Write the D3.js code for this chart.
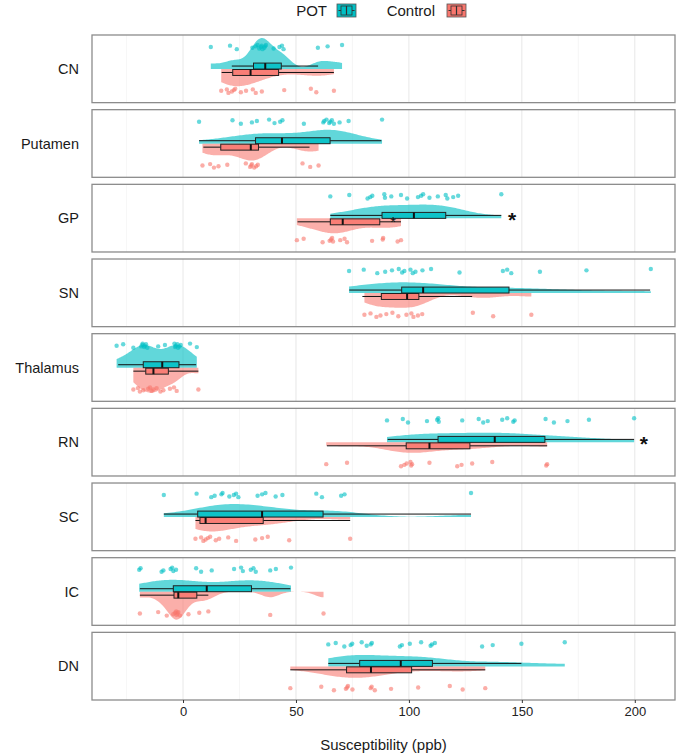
<!DOCTYPE html>
<html>
<head>
<meta charset="utf-8">
<script src="https://cdn.jsdelivr.net/npm/d3@7"></script>
<style>
  body { margin: 0; background: #fff; }
  svg text { font-family: "Liberation Sans", Arial, Helvetica, sans-serif; }
</style>
</head>
<body>
<div id="chart"></div>
<script>
const regions = ["CN", "Putamen", "GP", "SN", "Thalamus", "RN", "SC", "IC", "DN"];
const groups = ["POT", "Control"];
const xTicks = [0, 50, 100, 150, 200];
const xMinor = [-25, 25, 75, 125, 175];

// individual subjects (overlapping dots counted twice)
const potValues = {
  CN: [12.3, 20.8, 23.8, 30.7, 32.2, 33, 33.7, 34.5, 34.8, 35.2, 36, 36.3, 36.7, 40.1, 42.7, 43.8, 44.5, 59.7, 64, 70.4],
  Putamen: [7.1, 21.9, 25.6, 30.5, 32.7, 38.1, 40.5, 43, 44, 53.5, 62.1, 62.5, 63.5, 64.7, 65.2, 65.9, 66.8, 69.3, 73.3, 88.1],
  GP: [65.2, 73.6, 81.7, 82.9, 83.8, 89.1, 89.4, 92.2, 96.5, 99.2, 104, 105.4, 106.3, 109.1, 112.8, 116.3, 117, 119.6, 121.8, 140.9],
  SN: [73.5, 80, 86, 89.5, 92.5, 95.5, 97, 98, 100.7, 101.7, 102.9, 106, 109.8, 122.4, 141.6, 143.5, 145.3, 158, 178.6, 207.1],
  Thalamus: [-29.4, -26.5, -22, -18.5, -18, -17.9, -17.2, -16.9, -16.4, -15.8, -11, -8, -3.8, -3.5, -3.2, -2.5, -2.2, -1.6, -1, 3.1, 6.1],
  RN: [90.3, 97.3, 99.6, 108, 112.5, 113, 113.2, 123.6, 130.9, 132.9, 134.9, 141.3, 143.5, 146.2, 146.8, 160.5, 164.2, 170.2, 179.7, 199.7],
  SC: [-8.5, 6, 12.5, 14, 17, 17.5, 20.5, 22.5, 23.5, 24.5, 33, 35, 36.5, 41, 44, 59, 61.5, 70, 71.5, 127.5],
  IC: [-19.4, -18.8, -9.5, -8.7, -5.5, -4.8, -4.3, -3.1, 5.8, 8, 12.7, 22.6, 25.7, 26.5, 30, 31.2, 32.2, 38.6, 41.1, 47.8],
  DN: [64.3, 67.6, 71.4, 74.2, 74.9, 79.1, 81.3, 83.1, 83.6, 96, 96.9, 100.4, 105.4, 109.6, 110.2, 111.5, 132.4, 137.1, 149.8, 169]
};
const controlValues = {
  CN: [16.9, 19.4, 20.1, 21.6, 22.5, 23.1, 25.6, 27.9, 30.9, 32.2, 34.9, 44.8, 56.6, 59, 66.8],
  Putamen: [8.6, 12, 13.7, 15.7, 19.6, 27.8, 29.7, 30.2, 30.5, 31.5, 32.4, 33.1, 52.9, 56.3, 60],
  GP: [50.4, 53.4, 61.8, 64.9, 65.5, 66, 66.4, 69.6, 71.5, 72.6, 83.7, 88.4, 88.6, 95, 96.5],
  SN: [80.3, 83, 85.6, 87.4, 90, 92.7, 95.3, 98.9, 101.1, 102, 104, 105.9, 128.3, 137.3, 154.2],
  Thalamus: [-22, -20, -19.1, -17.6, -15.4, -14.6, -13.9, -13.1, -11.7, -10, -8.7, -5.8, -4, -2.8, 6.8],
  RN: [63.4, 72.6, 96.5, 98, 99, 100.7, 101, 101.4, 109.1, 121.4, 123.3, 128, 136.9, 160.8, 161.2],
  SC: [5.5, 8, 9, 10, 11, 12, 14.5, 16, 20, 23.5, 32, 35, 37.5, 47, 74],
  IC: [-19.1, -11, -7.2, -4.3, -3.5, -3, -2.8, -2.5, -2.1, -1.3, 2.4, 7.2, 11.2, 38.6, 62.2],
  DN: [47.5, 61.2, 66.8, 72.1, 72.6, 73, 75, 83.1, 83.5, 84.9, 92.1, 104.1, 118.1, 123.8, 133.8]
};

// box stats: lower whisker, q1, median, q3, upper whisker
const potBox = {
  CN: [21.6, 31.2, 36.4, 43.5, 59.8],
  Putamen: [7.1, 32.1, 43.8, 65.1, 87.8],
  GP: [65.2, 88.1, 102.2, 116.3, 140.9],
  SN: [73.6, 96.8, 106.3, 144.3, 206.8],
  Thalamus: [-28.7, -17.6, -9.2, -1.8, 5.8],
  RN: [90.6, 112.9, 138, 160.2, 199.7],
  SC: [-8.5, 6.5, 35, 62, 127.5],
  IC: [-19.1, -4.3, 10.5, 30.3, 47.5],
  DN: [64.3, 78.2, 96.4, 110.4, 149.8]
};
const controlBox = {
  CN: [17.1, 22, 29.9, 42.3, 66.8],
  Putamen: [9, 16.7, 30, 33.4, 56],
  GP: [50.7, 65.2, 70.7, 87.1, 96.5],
  SN: [79.4, 87.8, 99.2, 104.4, 128],
  Thalamus: [-22, -16.5, -13.1, -6.5, 6.8],
  RN: [63.7, 98.8, 109.1, 127, 161.2],
  SC: [5.5, 7.5, 10, 35.5, 74],
  IC: [-19.1, -4, -2.1, 6.1, 11.2],
  DN: [47.5, 72.4, 83.2, 101.2, 133.8]
};

// significance marks
const sigMarks = [
  {region: "GP", value: 145.7, big: true},
  {region: "RN", value: 204, big: true},
  {region: "GP", value: 93, big: false}
];

const colors = {POT: "#00BFC4", Control: "#F8766D"};

const W = 677, H = 755;
const svg = d3.select("#chart").append("svg")
  .attr("width", W).attr("height", H);

const x = d3.scaleLinear().domain([-40.3, 217.8]).range([92, 675]);
const panel = d3.scaleBand().domain(regions).range([35, 700]).paddingInner(0.094).paddingOuter(0);
const ph = panel.bandwidth();
// vertical layout inside a panel (0 = top, 1 = bottom)
const inner = d3.scaleLinear().domain([0, 1]).range([0, ph]);

function nrd0(v) {
  const s = d3.sort(v);
  const sd = d3.deviation(s);
  const iqr = d3.quantile(s, 0.75) - d3.quantile(s, 0.25);
  let lo = Math.min(sd, iqr / 1.34);
  if (!(lo > 0)) lo = sd || 1;
  return 0.9 * lo * Math.pow(s.length, -0.2);
}
// density scaled by count, trimmed to the data range
function kde(v) {
  const bw = nrd0(v);
  const [lo, hi] = d3.extent(v);
  return d3.range(121).map(i => {
    const t = lo + (hi - lo) * i / 120;
    const d = d3.sum(v, xi => Math.exp(-0.5 * ((t - xi) / bw) ** 2)) / (bw * Math.sqrt(2 * Math.PI));
    return [t, d];
  });
}

const dens = {};
regions.forEach(r => {
  dens[r] = {POT: kde(potValues[r]), Control: kde(controlValues[r])};
});
const maxD = d3.max(regions, r => d3.max(groups, g => d3.max(dens[r][g], d => d[1])));
const vh = d3.scalePow().exponent(0.8).domain([0, maxD]).range([0, 31]);

const baseY = inner(0.503);
const layout = {
  POT: {pt: inner(0.178), box: [inner(0.415), inner(0.503)], dir: -1},
  Control: {pt: inner(0.825), box: [inner(0.51), inner(0.598)], dir: 1}
};

// legend
const legend = svg.append("g");
const legendItems = [
  {g: "POT", tx: 327, kx: 337},
  {g: "Control", tx: 435, kx: 447}
];
legendItems.forEach(it => {
  legend.append("text").attr("x", it.tx).attr("y", 16)
    .attr("text-anchor", "end").style("font-size", "15px").attr("fill", "#1a1a1a").text(it.g);
  const k = legend.append("g").attr("transform", `translate(${it.kx},4)`);
  k.append("rect").attr("width", 19).attr("height", 13)
    .attr("fill", colors[it.g]).attr("stroke", "#555").attr("stroke-width", 0.8);
  k.append("rect").attr("x", 4).attr("y", 2).attr("width", 11).attr("height", 9)
    .attr("fill", "none").attr("stroke", "#333").attr("stroke-width", 0.8);
  k.append("line").attr("x1", 9.5).attr("x2", 9.5).attr("y1", 2).attr("y2", 11)
    .attr("stroke", "#333").attr("stroke-width", 1.2);
  k.append("line").attr("x1", 1.5).attr("x2", 4).attr("y1", 6.5).attr("y2", 6.5).attr("stroke", "#333");
  k.append("line").attr("x1", 15).attr("x2", 17.5).attr("y1", 6.5).attr("y2", 6.5).attr("stroke", "#333");
});

regions.forEach(r => {
  const g = svg.append("g").attr("transform", `translate(0,${panel(r)})`);

  g.append("rect").attr("x", x.range()[0]).attr("y", 0)
    .attr("width", x.range()[1] - x.range()[0]).attr("height", ph).attr("fill", "#fff");

  g.selectAll(".minor").data(xMinor).enter().append("line")
    .attr("x1", d => x(d)).attr("x2", d => x(d)).attr("y1", 0).attr("y2", ph)
    .attr("stroke", "#f0f0f0").attr("stroke-width", 0.6);
  g.selectAll(".major").data(xTicks).enter().append("line")
    .attr("x1", d => x(d)).attr("x2", d => x(d)).attr("y1", 0).attr("y2", ph)
    .attr("stroke", "#e4e4e4").attr("stroke-width", 0.9);

  groups.forEach(grp => {
    const L = layout[grp];
    const area = d3.area()
      .x(d => x(d[0]))
      .y0(baseY)
      .y1(d => baseY + L.dir * vh(d[1]))
      .curve(d3.curveLinear);
    g.append("path").datum(dens[r][grp]).attr("d", area)
      .attr("fill", colors[grp]).attr("fill-opacity", grp === "POT" ? 0.62 : 0.58);
  });

  groups.forEach(grp => {
    const L = layout[grp];
    const vals = grp === "POT" ? potValues[r] : controlValues[r];
    g.selectAll(".pt-" + grp).data(vals).enter().append("circle")
      .attr("cx", d => x(d))
      .attr("cy", (d, i) => L.pt + (((i * 5 + 3) % 7) - 3) * 0.7)
      .attr("r", 2.2)
      .attr("fill", colors[grp]).attr("fill-opacity", 0.6);
  });

  groups.forEach(grp => {
    const L = layout[grp];
    const b = grp === "POT" ? potBox[r] : controlBox[r];
    const cy = (L.box[0] + L.box[1]) / 2;
    g.append("line").attr("x1", x(b[0])).attr("x2", x(b[1])).attr("y1", cy).attr("y2", cy)
      .attr("stroke", "#111").attr("stroke-width", 1);
    g.append("line").attr("x1", x(b[3])).attr("x2", x(b[4])).attr("y1", cy).attr("y2", cy)
      .attr("stroke", "#111").attr("stroke-width", 1);
    g.append("rect").attr("x", x(b[1])).attr("y", L.box[0])
      .attr("width", x(b[3]) - x(b[1])).attr("height", L.box[1] - L.box[0])
      .attr("fill", colors[grp]).attr("fill-opacity", 0.85)
      .attr("stroke", "#222").attr("stroke-width", 1);
    g.append("line").attr("x1", x(b[2])).attr("x2", x(b[2])).attr("y1", L.box[0]).attr("y2", L.box[1])
      .attr("stroke", "#111").attr("stroke-width", 2);
  });

  g.append("rect").attr("x", x.range()[0]).attr("y", 0)
    .attr("width", x.range()[1] - x.range()[0]).attr("height", ph)
    .attr("fill", "none").attr("stroke", "#8c8c8c").attr("stroke-width", 1.3);

  g.append("text").attr("x", 79).attr("y", ph / 2).attr("dy", "0.36em")
    .attr("text-anchor", "end").style("font-size", "14.5px").attr("fill", "#1a1a1a").text(r);
});

// significance asterisks
sigMarks.forEach(m => {
  const fs = m.big ? 21 : 15;
  const cy = panel(m.region) + (m.big ? (layout.POT.box[0] + layout.POT.box[1]) / 2 : baseY);
  svg.append("text").attr("x", x(m.value)).attr("y", cy + fs * 0.57)
    .attr("text-anchor", "middle").style("font-size", fs + "px")
    .style("font-weight", m.big ? "bold" : "normal").attr("fill", "#111").text("*");
});

// x axis
const axis = svg.append("g").attr("transform", `translate(0,${panel.range()[1]})`)
  .call(d3.axisBottom(x).tickValues(xTicks).tickSize(3).tickPadding(4));
axis.select(".domain").remove();
axis.selectAll(".tick line").attr("stroke", "#333");
axis.selectAll(".tick text").style("font-size", "13px").attr("fill", "#222");

svg.append("text").attr("x", (x.range()[0] + x.range()[1]) / 2).attr("y", 750)
  .attr("text-anchor", "middle").style("font-size", "15px").attr("fill", "#1a1a1a")
  .text("Susceptibility (ppb)");
</script>
</body>
</html>
